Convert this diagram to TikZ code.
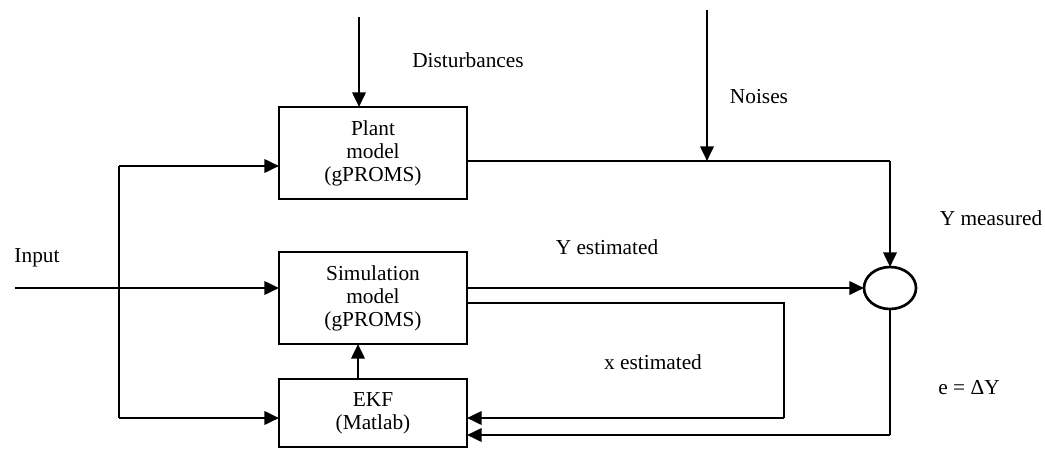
\documentclass[tikz,border=0pt]{standalone}
\usepackage{fontspec}
\setmainfont{Liberation Serif}
\usetikzlibrary{arrows.meta,shapes.geometric}
\begin{document}
\begin{tikzpicture}[x=0.75pt,y=-0.75pt,
  line/.style={line width=2pt},
  arr/.style={line width=2pt,-{Triangle[length=11pt,width=10pt]}},
  box/.style={draw,line width=2pt,minimum width=141pt,inner sep=0pt,outer sep=0pt,align=center,font=\fontsize{16}{17.3}\selectfont},
  lbl/.style={inner sep=0pt,font=\fontsize{16}{17.3}\selectfont}]
\useasboundingbox (0,0) rectangle (1045,450);
% blocks
\node[box,minimum height=69pt] (plant) at (373,153) {Plant\\model\\(gPROMS)};
\node[box,minimum height=69pt] (sim) at (373,298) {Simulation\\model\\(gPROMS)};
\node[box,minimum height=51pt] (ekf) at (373,413) {EKF\\(Matlab)};
\node[draw,ellipse,line width=2pt,minimum width=39pt,minimum height=31.5pt,inner sep=0pt,outer sep=0pt] (sum) at (890,288) {};
% coordinates
\coordinate (dtop) at (359,17);
\coordinate (ntop) at (707,10);
\coordinate (pout) at (890,161);
\coordinate (ltop) at (119,166);
\coordinate (lbot) at (119,418);
\coordinate (in0) at (15,288);
\coordinate (kx) at (358,380);
\coordinate (xr) at (784,303);
\coordinate (xb) at (784,418);
\coordinate (eb) at (890,435);
% connectors
\draw[arr] (dtop) -- (dtop |- plant.north);
\draw[line] (plant.east |- pout) -- (pout);
\draw[arr] (ntop) -- (ntop |- pout);
\draw[arr] (pout) -- (sum.north);
\draw[line] (ltop) -- (lbot);
\draw[arr] (ltop) -- (ltop -| plant.west);
\draw[arr] (lbot) -- (lbot -| ekf.west);
\draw[arr] (in0) -- (in0 -| sim.west);
\draw[arr] (kx |- ekf.north) -- (kx |- sim.south);
\draw[arr] (sim.east |- sum) -- (sum.west);
\draw[line] (sim.east |- xr) -- (xr) -- (xb);
\draw[arr] (xb) -- (xb -| ekf.east);
\draw[line] (sum.south) -- (eb);
\draw[arr] (eb) -- (eb -| ekf.east);
% labels
\node[lbl] (ldist) at (468,60) {Disturbances};
\node[lbl] (lnoise) at (759,97) {Noises};
\node[lbl] (lymeas) at (991,218) {Y measured};
\node[lbl] (linput) at (37,258) {Input};
\node[lbl] (lyest) at (607,247) {Y estimated};
\node[lbl] (lxest) at (653,362) {x estimated};
\node[lbl] (le) at (969,388) {e = ΔY};
\end{tikzpicture}
\end{document}
